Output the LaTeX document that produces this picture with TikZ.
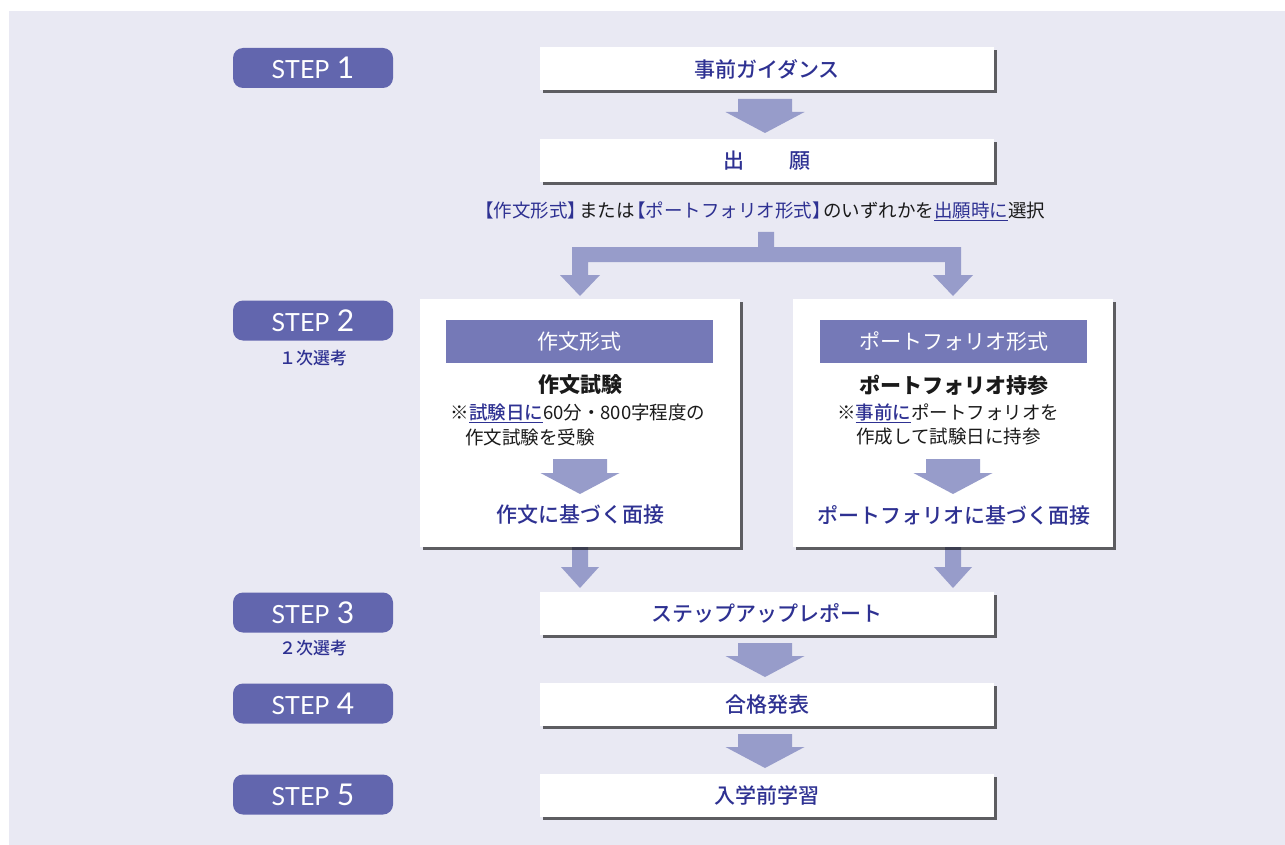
\documentclass[tikz,border=0pt]{standalone}
\usepackage{fontspec}
\setmainfont{Noto Sans CJK JP}
\newfontfamily\jpmed{Noto Sans CJK JP Medium}
\newfontfamily\stepfont{Lato}
\usetikzlibrary{shadows,calc}
\definecolor{bgc}{HTML}{E9E9F3}
\definecolor{pillc}{HTML}{6266AE}
\definecolor{headc}{HTML}{7579B7}
\definecolor{arrc}{HTML}{979CCA}
\definecolor{bluet}{HTML}{2E3192}
\definecolor{txt}{HTML}{1A1A1A}
\newcommand\fs[1]{\fontsize{#1}{#1}\selectfont}
\newcommand\blu[1]{{\color{bluet}#1}}
\newcommand\bluu[1]{{\color{bluet}\underline{#1}}}
\newcommand\bluub[1]{{\color{bluet}\jpmed\underline{#1}}}
\newcommand\lbr{\hspace{-0.4em}【}
\newcommand\rbr{】\hspace{-0.4em}}
% block arrow from coordinate #1 (top, centre) down to tip at the height of #2
\newcommand\blockarrow[5]{%
  \fill[arrc] let \p1=(#1), \p2=(#2) in
  (\x1-#3pt,\y1) -- (\x1+#3pt,\y1) -- (\x1+#3pt,\y2+#5pt) -- (\x1+#4pt,\y2+#5pt)
  -- (\x1,\y2) -- (\x1-#4pt,\y2+#5pt) -- (\x1-#3pt,\y2+#5pt) -- cycle;}
\begin{document}
\begin{tikzpicture}[x=1pt,y=-1pt,
  shade/.style={drop shadow={shadow xshift=3pt,shadow yshift=-3pt,opacity=0.6,fill=black}},
  mainbox/.style={shade,fill=white,minimum width=454pt,minimum height=43pt,inner sep=0pt,
    text=bluet,font=\fs{21}\jpmed},
  bigbox/.style={shade,fill=white,minimum width=320pt,minimum height=248pt,inner sep=0pt},
  headbox/.style={fill=headc,minimum width=267pt,minimum height=43pt,inner sep=0pt,
    text=white,font=\fs{21}},
  pill/.style={fill=pillc,rounded corners=10pt,minimum width=160pt,minimum height=40pt,
    inner sep=0pt,text=white},
  sublabel/.style={text=bluet,font=\fs{17}\jpmed,inner sep=0pt},
  title/.style={text=txt,font=\fs{21}\bfseries,inner sep=0pt},
  note/.style={text=txt,font=\fs{18.5},inner sep=0pt},
  interview/.style={text=bluet,font=\fs{21}\jpmed,inner sep=0pt}]
\useasboundingbox (0,0) rectangle (1285,845);
\fill[white] (0,0) rectangle (1285,845);
\fill[bgc] (9,11) rectangle (1285,845);

% step labels
\node[pill] (s1) at (313,68) {\stepfont\fs{25}STEP\hspace{0.3em}\fs{30}1};
\node[pill] (s2) at (313,320.5) {\stepfont\fs{25}STEP\hspace{0.3em}\fs{30}2};
\node[sublabel] (s2l) at (313,358) {１次選考};
\node[pill] (s3) at (313,612.5) {\stepfont\fs{25}STEP\hspace{0.3em}\fs{30}3};
\node[sublabel] (s3l) at (313,648) {２次選考};
\node[pill] (s4) at (313,703.5) {\stepfont\fs{25}STEP\hspace{0.3em}\fs{30}4};
\node[pill] (s5) at (313,794.5) {\stepfont\fs{25}STEP\hspace{0.3em}\fs{30}5};

% coordinates for arrows
\coordinate (a1s) at (765,99);   \coordinate (a1t) at (765,133);
\coordinate (ils) at (580,459);  \coordinate (ilt) at (580,494);
\coordinate (irs) at (953,459);  \coordinate (irt) at (953,494);
\coordinate (dls) at (580,546);  \coordinate (dlt) at (580,588);
\coordinate (drs) at (953,546);  \coordinate (drt) at (953,588);
\coordinate (a3s) at (765,643);  \coordinate (a3t) at (765,677);
\coordinate (a4s) at (765,734);  \coordinate (a4t) at (765,768);

\blockarrow{a1s}{a1t}{27}{39.5}{21}
\blockarrow{dls}{dlt}{8}{19}{21}
\blockarrow{drs}{drt}{8}{19}{21}
\blockarrow{a3s}{a3t}{27}{39.5}{21}
\blockarrow{a4s}{a4t}{27}{39.5}{21}

% split arrow
\fill[arrc] (758,232) -- (774,232) -- (774,247) -- (961,247) -- (961,275) -- (973,275)
  -- (953,296) -- (933,275) -- (945,275) -- (945,262) -- (588,262) -- (588,275)
  -- (600,275) -- (580,296) -- (560,275) -- (572,275) -- (572,247) -- (758,247) -- cycle;

% main boxes
\node[mainbox] (b1) at (767,69) {事前ガイダンス};
\node[mainbox] (b2) at (767,160.5) {出\hspace{45pt}願};
\node[text=txt,font=\fs{18.5},inner sep=0pt] (sel) at (764,211)
  {\blu{\lbr 作文形式\rbr}または\blu{\lbr ポートフォリオ形式\rbr}のいずれかを\bluu{出願時に}選択};

% two option boxes
\node[bigbox] (fl) at (580,423) {};
\node[bigbox] (fr) at (953,423) {};
\node[headbox] (hl) at (579.5,341.5) {作文形式};
\node[headbox] (hr) at (953.5,341.5) {ポートフォリオ形式};
\node[title] (tl) at (580,385) {作文試験};
\node[title] (tr) at (954,385) {ポートフォリオ持参};
\node[note] (nl1) at (578,413) {※\bluub{試験日に}60分・800字程度の};
\node[note,anchor=west] (nl2) at (465,437) {作文試験を受験};
\node[note] (nr1) at (948,413) {※\bluub{事前に}ポートフォリオを};
\node[note] (nr2) at (948.5,437) {作成して試験日に持参};
\blockarrow{ils}{ilt}{27}{39.5}{21}
\blockarrow{irs}{irt}{27}{39.5}{21}
\node[interview] (il) at (580,515) {作文に基づく面接};
\node[interview] (ir) at (953.5,515) {ポートフォリオに基づく面接};

\node[mainbox] (b3) at (767,613.5) {ステップアップレポート};
\node[mainbox] (b4) at (767,704.5) {合格発表};
\node[mainbox] (b5) at (767,795.5) {入学前学習};
\end{tikzpicture}
\end{document}
